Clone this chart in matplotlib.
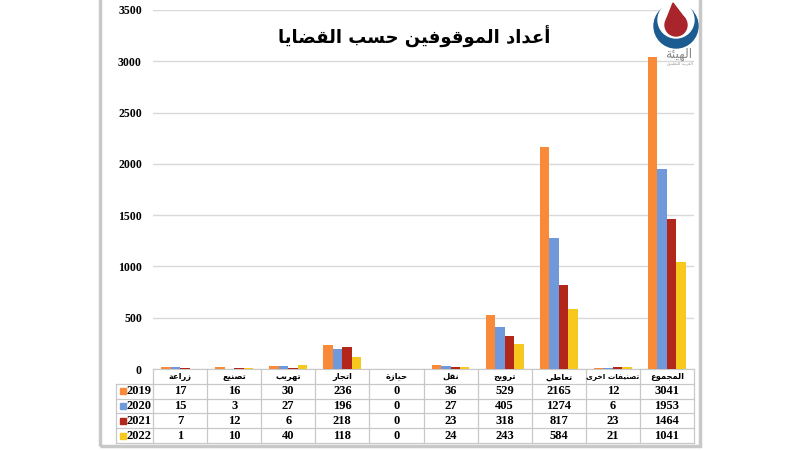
import matplotlib
matplotlib.use("Agg")
import matplotlib.pyplot as plt
from matplotlib.patches import Rectangle, Circle, Polygon

# ---------------------------------------------------------------------------
# Data
# ---------------------------------------------------------------------------

TITLE = "أعداد الموقوفين حسب القضايا"
categories = ["زراعة", "تصنيع", "تهريب", "اتجار", "حيازة", "نقل",
              "ترويج", "تعاطي", "تصنيفات اخرى", "المجموع"]
years = ["2019", "2020", "2021", "2022"]
values_2019 = [17, 16, 30, 236, 0, 36, 529, 2165, 12, 3041]
values_2020 = [15, 3, 27, 196, 0, 27, 405, 1274, 6, 1953]
values_2021 = [7, 12, 6, 218, 0, 23, 318, 817, 23, 1464]
values_2022 = [1, 10, 40, 118, 0, 24, 243, 584, 21, 1041]
series = [values_2019, values_2020, values_2021, values_2022]
colors = ["#F98A3A", "#7099DC", "#B3261A", "#F7C81E"]
yticks = [0, 500, 1000, 1500, 2000, 2500, 3000, 3500]

# ---------------------------------------------------------------------------
# Minimal Arabic shaping (matplotlib has no complex text layout)
# ---------------------------------------------------------------------------

ARABIC = {
    "ا": (0xFE8D, False), "أ": (0xFE83, False), "ب": (0xFE8F, True),
    "ة": (0xFE93, False), "ت": (0xFE95, True), "ج": (0xFE9D, True),
    "ح": (0xFEA1, True), "خ": (0xFEA5, True), "د": (0xFEA9, False),
    "ر": (0xFEAD, False), "ز": (0xFEAF, False), "س": (0xFEB1, True),
    "ص": (0xFEB9, True), "ض": (0xFEBD, True), "ط": (0xFEC1, True),
    "ع": (0xFEC9, True), "ف": (0xFED1, True), "ق": (0xFED5, True),
    "ل": (0xFEDD, True), "م": (0xFEE1, True), "ن": (0xFEE5, True),
    "ه": (0xFEE9, True), "و": (0xFEED, False), "ى": (0xFEEF, False),
    "ي": (0xFEF1, True), "ئ": (0xFE89, True),
}


def shape(text):
    out = []
    for i, ch in enumerate(text):
        if ch not in ARABIC:
            out.append(ch)
            continue
        base, dual = ARABIC[ch]
        prev = text[i - 1] if i > 0 else ""
        nxt = text[i + 1] if i + 1 < len(text) else ""
        joins_prev = prev in ARABIC and ARABIC[prev][1]
        joins_next = dual and nxt in ARABIC
        if joins_prev and joins_next:
            code = base + 3
        elif joins_prev:
            code = base + 1
        elif joins_next:
            code = base + 2
        else:
            code = base
        out.append(chr(code))
    return "".join(reversed(out))


AR_FONT = ["DejaVu Sans"]
NUM_FONT = ["Liberation Serif", "DejaVu Serif"]
GRID = "#D9D9D9"
BORDER = "#C8C8C8"

# ---------------------------------------------------------------------------
# Figure
# ---------------------------------------------------------------------------

W, H = 800, 450
fig = plt.figure(figsize=(8, 4.5), dpi=100)
fig.patch.set_facecolor("white")


def fx(px):
    return px / W


def fy(py):
    return 1 - py / H


# panel frame
fig.patches.append(Rectangle((fx(100), fy(446)), fx(600), 446 / H + 0.01,
                             transform=fig.transFigure, facecolor="none",
                             edgecolor=BORDER, linewidth=2.5, zorder=-10))

left, right = 153, 694
ax = fig.add_axes([fx(left), fy(369), fx(right - left), (369 - 10) / H])
ax.set_facecolor("none")

n = len(categories)
bar_w = 0.175
x = list(range(n))
for k, (vals, col) in enumerate(zip(series, colors)):
    offs = (k - 1.5) * bar_w
    ax.bar([i + offs for i in x], vals, width=bar_w, color=col, zorder=3)

ax.set_xlim(-0.5, n - 0.5)
ax.set_ylim(0, 3500)
ax.set_yticks(yticks)
ax.set_yticklabels([str(t) for t in yticks], fontfamily=NUM_FONT,
                   fontweight="bold", fontsize=8.5)
ax.tick_params(axis="y", length=0, pad=8)
ax.set_xticks([])
ax.grid(axis="y", color=GRID, linewidth=1, zorder=0)
for s in ["top", "right", "left"]:
    ax.spines[s].set_visible(False)
ax.spines["bottom"].set_color(BORDER)

fig.text(fx(414), fy(37), shape(TITLE),
         ha="center", va="center", fontsize=13, fontweight="bold",
         fontfamily=AR_FONT, color="black")

# ---------------------------------------------------------------------------
# Data table below the axis
# ---------------------------------------------------------------------------

tax = fig.add_axes([fx(left), fy(443), fx(right - left), 74 / H])
tax.set_xlim(-0.5, n - 0.5)
tax.set_ylim(len(years) + 1, 0)
tax.axis("off")
legend_w = 37 / ((right - left) / n)
x0 = -0.5 - legend_w

for r in range(1, len(years) + 2):
    tax.plot([x0, n - 0.5], [r, r], color=BORDER, lw=0.9, clip_on=False)
for c in range(n + 1):
    tax.plot([c - 0.5, c - 0.5], [0, len(years) + 1], color=BORDER, lw=0.9,
             clip_on=False)
tax.plot([x0, x0], [1, len(years) + 1], color=BORDER, lw=0.9, clip_on=False)

for c, name in enumerate(categories):
    tax.text(c, 0.5, shape(name), ha="center", va="center",
             fontsize=5.3 if len(name) > 8 else 6,
             fontweight="bold", fontfamily=AR_FONT)

for r, (yr, vals, col) in enumerate(zip(years, series, colors), start=1):
    tax.add_patch(Rectangle((x0 + 0.07, r + 0.3), 0.11, 0.42, color=col,
                            clip_on=False))
    tax.text(x0 + 0.2, r + 0.52, yr, ha="left", va="center", fontsize=9,
             fontweight="bold", fontfamily=NUM_FONT)
    for c, v in enumerate(vals):
        tax.text(c, r + 0.52, str(v), ha="center", va="center", fontsize=9,
                 fontweight="bold", fontfamily=NUM_FONT)

# ---------------------------------------------------------------------------
# Logo (top right)
# ---------------------------------------------------------------------------

lax = fig.add_axes([fx(646), fy(72), fx(60), 72 / H])
lax.set_xlim(646, 706)
lax.set_ylim(72, 0)
lax.axis("off")
lax.add_patch(Circle((676, 26), 22, color="#1D5C91"))
lax.add_patch(Circle((676, 20), 18, color="white"))
lax.add_patch(Circle((676, 25), 11, color="#A9242B"))
lax.add_patch(Polygon([(666.5, 19.5), (685.5, 19.5), (673, 3)],
                      color="#A9242B"))
lax.text(679, 54, shape("الهيئة"), ha="center", va="center", fontsize=9,
         fontfamily=AR_FONT, color="#8A8A8A")
lax.text(680, 63, shape("العربية للتطبيق"), ha="center", va="center",
         fontsize=3, fontfamily=AR_FONT, color="#9A9A9A")

fig.savefig("out.png", dpi=100)
